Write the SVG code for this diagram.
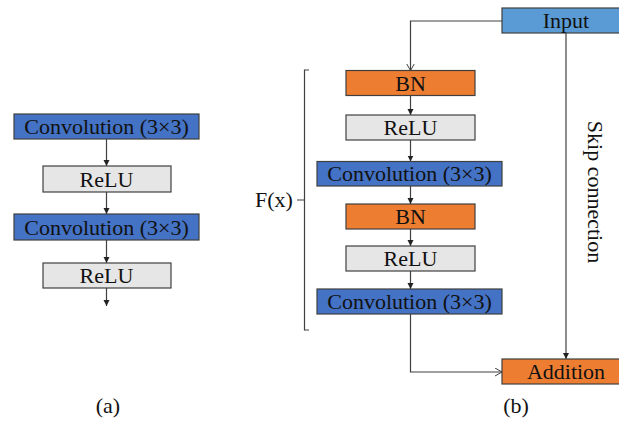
<svg xmlns="http://www.w3.org/2000/svg" width="619" height="421" viewBox="0 0 619 421">
<defs>
<style>
.box{stroke:#404040;stroke-width:1.2}
.conv{fill:#4472C4}
.relu{fill:#E7E6E6}
.bn{fill:#ED7D31}
.inp{fill:#5B9BD5}
text{font-family:"Liberation Serif","Times New Roman",serif;font-size:22px;fill:#111;text-anchor:middle}
.ln{fill:none;stroke:#404040;stroke-width:1.2}
</style>
<marker id="fa" markerUnits="userSpaceOnUse" markerWidth="7" markerHeight="7" refX="6" refY="3" orient="auto">
<path d="M0,0 L6,3 L0,6 z" fill="#222"/>
</marker>
<marker id="oa" markerUnits="userSpaceOnUse" markerWidth="10" markerHeight="10" refX="7" refY="4" orient="auto">
<path d="M0,0 L7,4 L0,8" fill="none" stroke="#404040" stroke-width="1"/>
</marker>
</defs>
<rect width="619" height="421" fill="#fff"/>

<g id="connectors">
<line class="ln" x1="106.5" y1="139" x2="106.5" y2="166" marker-end="url(#fa)"/>
<line class="ln" x1="106.5" y1="192" x2="106.5" y2="214" marker-end="url(#fa)"/>
<line class="ln" x1="106.5" y1="240" x2="106.5" y2="263" marker-end="url(#fa)"/>
<line class="ln" x1="106.5" y1="288" x2="106.5" y2="306" marker-end="url(#fa)"/>
<line class="ln" x1="410.5" y1="96" x2="410.5" y2="115" marker-end="url(#fa)"/>
<line class="ln" x1="410.5" y1="140" x2="410.5" y2="161.5" marker-end="url(#fa)"/>
<line class="ln" x1="410.5" y1="186" x2="410.5" y2="204" marker-end="url(#fa)"/>
<line class="ln" x1="410.5" y1="229" x2="410.5" y2="246" marker-end="url(#fa)"/>
<line class="ln" x1="410.5" y1="271" x2="410.5" y2="289" marker-end="url(#fa)"/>
<path class="ln" d="M502,21 H410.5 V70.5" marker-end="url(#oa)"/>
<path class="ln" d="M410.5,314 V372 H502" marker-end="url(#oa)"/>
<line class="ln" x1="566" y1="33" x2="566" y2="359" marker-end="url(#fa)"/>
<path class="ln" d="M309,70 H304.5 V330 H309 M297,200 H304.5"/>
</g>

<g id="a-conv1"><rect class="box conv" x="14" y="114" width="185" height="25"/><text x="106.5" y="134">Convolution (3×3)</text></g>
<g id="a-relu1"><rect class="box relu" x="43" y="166" width="128" height="26"/><text x="106.5" y="186.5">ReLU</text></g>
<g id="a-conv2"><rect class="box conv" x="14" y="214" width="185" height="26"/><text x="106.5" y="234.5">Convolution (3×3)</text></g>
<g id="a-relu2"><rect class="box relu" x="43" y="263" width="128" height="25"/><text x="106.5" y="283">ReLU</text></g>

<g id="b-input"><rect class="box inp" x="502" y="8" width="128" height="25"/><text x="566" y="28">Input</text></g>
<g id="b-bn1"><rect class="box bn" x="346" y="70.5" width="129" height="25"/><text x="410.5" y="90.5">BN</text></g>
<g id="b-relu1"><rect class="box relu" x="346" y="115" width="129" height="25"/><text x="410.5" y="135">ReLU</text></g>
<g id="b-conv1"><rect class="box conv" x="317" y="161.5" width="185" height="24.5"/><text x="409.5" y="181">Convolution (3×3)</text></g>
<g id="b-bn2"><rect class="box bn" x="346" y="204" width="129" height="25"/><text x="410.5" y="224">BN</text></g>
<g id="b-relu2"><rect class="box relu" x="346" y="246" width="129" height="25"/><text x="410.5" y="266">ReLU</text></g>
<g id="b-conv2"><rect class="box conv" x="317" y="289" width="185" height="25"/><text x="409.5" y="309">Convolution (3×3)</text></g>
<g id="b-add"><rect class="box bn" x="502" y="359" width="128" height="25"/><text x="566" y="379">Addition</text></g>

<g id="labels">
<text x="274" y="207">F(x)</text>
<text transform="translate(588,192) rotate(90)" x="0" y="0">Skip connection</text>
<text x="108" y="413">(a)</text>
<text x="516" y="413">(b)</text>
</g>
</svg>
